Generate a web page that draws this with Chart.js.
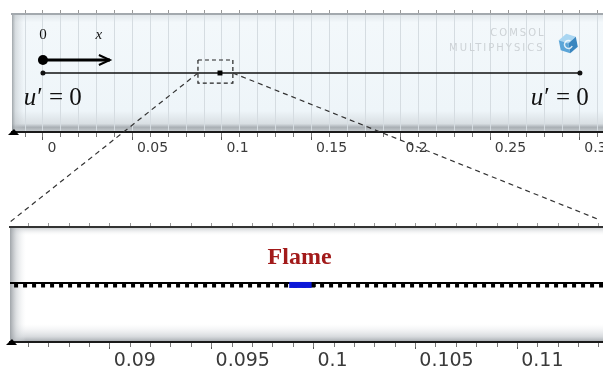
<!DOCTYPE html>
<html>
<head>
<meta charset="utf-8">
<script src="https://cdn.jsdelivr.net/npm/chart.js@4.4.1/dist/chart.umd.min.js"></script>
<style>
html, body { margin: 0; padding: 0; background: #fff; }
#wrap { position: relative; width: 603px; height: 370px; overflow: hidden; }
canvas { position: absolute; left: 0; }
#top { top: 0; }
#bottom { top: 210px; }
#links { top: 0; pointer-events: none; }
</style>
</head>
<body>
<div id="wrap">
  <canvas id="top" width="603" height="225"></canvas>
  <canvas id="bottom" width="603" height="160"></canvas>
  <canvas id="links" width="603" height="370"></canvas>
</div>
<script>
// top panel: whole rod
const topRange = [-0.0173, 0.3129];
const topTicks = [0, 0.05, 0.1, 0.15, 0.2, 0.25, 0.3];
const rodX = [0, 0.3];
const rodY = 0.5;
const flameTopX = 0.0989;
const arrowX = [0, 0.0374];
const arrowY = 0.61;
const zoomBoxX = [0.0866, 0.1061];
const zoomBoxY = [0.415, 0.61];

// bottom panel: zoom around the flame
const botRange = [0.0851, 0.1142];
const botTicks = [0.09, 0.095, 0.1, 0.105, 0.11];
const lineX = [0.08, 0.12];
const lineY = 0.513;
const meshY = 0.491;
const flameX = [0.0988, 0.0999];
const flameY = 0.496;
const flameEndX = 0.1;

const serif = '"Liberation Serif", "DejaVu Serif", serif';
const sans = '"DejaVu Sans", sans-serif';

const topNotes = [
    { text: '0', x: 0, y: 0.822, font: '15px ' + serif, color: '#111' },
    { text: 'x', x: 0.0312, y: 0.822, font: 'italic 15px ' + serif, color: '#111' },
    { text: 'COMSOL', x: 0.2654, y: 0.839, font: '10px ' + sans, color: '#cdd2d6', spacing: '2px' },
    { text: 'MULTIPHYSICS', x: 0.2536, y: 0.712, font: '10px ' + sans, color: '#cdd2d6', spacing: '2px' }
];
const uLabels = [
    { x: 0.0052, y: 0.288 },
    { x: 0.2885, y: 0.288 }
];
const botNotes = [
    { text: 'Flame', x: 0.09931, y: 0.735, font: 'bold 24px ' + serif, color: '#a21a1a' }
];

function drawNotes(chart, notes) {
    const ctx = chart.ctx;
    const xs = chart.scales.x, ys = chart.scales.y;
    ctx.save();
    ctx.textAlign = 'center';
    ctx.textBaseline = 'middle';
    notes.forEach(n => {
        ctx.font = n.font;
        ctx.fillStyle = n.color;
        ctx.letterSpacing = n.spacing || '0px';
        ctx.fillText(n.text, xs.getPixelForValue(n.x), ys.getPixelForValue(n.y));
    });
    ctx.restore();
}

function drawU(chart) {
    const ctx = chart.ctx;
    const xs = chart.scales.x, ys = chart.scales.y;
    ctx.save();
    ctx.textBaseline = 'middle';
    ctx.textAlign = 'left';
    ctx.fillStyle = '#111';
    uLabels.forEach(p => {
        const a = 'italic 25px ' + serif, b = '25px ' + serif;
        ctx.font = a; const w1 = ctx.measureText('u').width;
        ctx.font = b; const w2 = ctx.measureText('\u2032 = 0').width;
        let cx = xs.getPixelForValue(p.x) - (w1 + w2) / 2;
        const cy = ys.getPixelForValue(p.y);
        ctx.font = a; ctx.fillText('u', cx, cy);
        ctx.font = b; ctx.fillText('\u2032 = 0', cx + w1 + 1, cy);
    });
    ctx.restore();
}

function drawCube(ctx, cx, cy, r) {
    ctx.save();
    ctx.translate(cx, cy);
    ctx.rotate(-0.2);
    const faces = [
        { c: '#a9d6f2', p: [[0, -r], [r * 0.87, -r / 2], [0, 0], [-r * 0.87, -r / 2]] },
        { c: '#5ba5d8', p: [[-r * 0.87, -r / 2], [0, 0], [0, r], [-r * 0.87, r / 2]] },
        { c: '#3a86bf', p: [[r * 0.87, -r / 2], [0, 0], [0, r], [r * 0.87, r / 2]] }
    ];
    faces.forEach(f => {
        ctx.fillStyle = f.c;
        ctx.beginPath();
        f.p.forEach((q, i) => i ? ctx.lineTo(q[0], q[1]) : ctx.moveTo(q[0], q[1]));
        ctx.closePath();
        ctx.fill();
    });
    ctx.strokeStyle = 'rgba(255,255,255,0.8)';
    ctx.lineWidth = 1.5;
    ctx.beginPath();
    ctx.arc(0, 1, r * 0.4, 0.6, 5.4);
    ctx.stroke();
    ctx.restore();
}

function axisTriangle(chart) {
    const a = chart.chartArea, ctx = chart.ctx;
    ctx.save();
    ctx.fillStyle = '#000';
    ctx.beginPath();
    ctx.moveTo(a.left - 4, a.bottom + 3);
    ctx.lineTo(a.left + 7, a.bottom + 3);
    ctx.lineTo(a.left + 2, a.bottom - 3);
    ctx.closePath();
    ctx.fill();
    ctx.restore();
}

const topFrame = {
    id: 'topFrame',
    beforeDraw(chart) {
        const a = chart.chartArea, ctx = chart.ctx;
        const w = a.right - a.left, h = a.bottom - a.top;
        ctx.save();
        const g = ctx.createLinearGradient(0, a.top, 0, a.bottom);
        g.addColorStop(0, '#dfe5e9');
        g.addColorStop(0.07, '#f3f8fb');
        g.addColorStop(0.82, '#eef5f9');
        g.addColorStop(0.93, '#d9dfe3');
        g.addColorStop(0.96, '#a9afb4');
        g.addColorStop(1, '#c9ced2');
        ctx.fillStyle = g;
        ctx.fillRect(a.left, a.top, w, h);
        const l = ctx.createLinearGradient(a.left, 0, a.left + 12, 0);
        l.addColorStop(0, 'rgba(140,146,150,0.8)');
        l.addColorStop(0.3, 'rgba(190,196,200,0.5)');
        l.addColorStop(1, 'rgba(200,205,210,0)');
        ctx.fillStyle = l;
        ctx.fillRect(a.left, a.top, 12, h);
        ctx.restore();
    },
    afterDatasetsDraw(chart) {
        // arrow head on the x direction arrow
        const meta = chart.getDatasetMeta(2);
        const tip = meta.data[meta.data.length - 1];
        const ctx = chart.ctx;
        ctx.save();
        ctx.strokeStyle = '#000';
        ctx.lineWidth = 2;
        ctx.beginPath();
        ctx.moveTo(tip.x - 11, tip.y - 5);
        ctx.lineTo(tip.x, tip.y);
        ctx.lineTo(tip.x - 11, tip.y + 5);
        ctx.stroke();
        ctx.restore();
        drawCube(ctx, chart.scales.x.getPixelForValue(0.2935), chart.scales.y.getPixelForValue(0.75), 10);
        drawNotes(chart, topNotes);
        drawU(chart);
    },
    afterDraw(chart) { axisTriangle(chart); }
};

const botFrame = {
    id: 'botFrame',
    beforeDraw(chart) {
        const a = chart.chartArea, ctx = chart.ctx;
        const w = a.right - a.left, h = a.bottom - a.top;
        ctx.save();
        ctx.fillStyle = '#fff';
        ctx.fillRect(a.left, a.top, w, h);
        const t = ctx.createLinearGradient(0, a.top, 0, a.top + 9);
        t.addColorStop(0, 'rgba(170,175,180,0.7)');
        t.addColorStop(1, 'rgba(255,255,255,0)');
        ctx.fillStyle = t;
        ctx.fillRect(a.left, a.top, w, 9);
        const b = ctx.createLinearGradient(0, a.bottom - 18, 0, a.bottom);
        b.addColorStop(0, 'rgba(235,237,240,0)');
        b.addColorStop(0.7, 'rgba(205,209,213,0.8)');
        b.addColorStop(1, 'rgba(160,165,170,1)');
        ctx.fillStyle = b;
        ctx.fillRect(a.left, a.bottom - 18, w, 18);
        const l = ctx.createLinearGradient(a.left, 0, a.left + 16, 0);
        l.addColorStop(0, 'rgba(150,155,160,0.9)');
        l.addColorStop(0.4, 'rgba(200,204,208,0.6)');
        l.addColorStop(1, 'rgba(235,238,240,0)');
        ctx.fillStyle = l;
        ctx.fillRect(a.left, a.top, 16, h);
        ctx.restore();
    },
    afterDatasetsDraw(chart) { drawNotes(chart, botNotes); },
    afterDraw(chart) { axisTriangle(chart); }
};

function noPad(s) { s.paddingLeft = 0; s.paddingRight = 0; }

function makeScales(range, ticks, o) {
    return {
        x: {
            type: 'linear', position: 'bottom', min: range[0], max: range[1],
            afterBuildTicks: s => { s.ticks = ticks.map(v => ({ value: v })); },
            afterFit: s => { noPad(s); s.height = o.axisH; },
            ticks: {
                align: 'start', maxRotation: 0, autoSkip: false, padding: o.pad,
                font: { family: 'DejaVu Sans', size: o.size }, color: '#3a3a3a',
                callback: v => o.space + v
            },
            grid: { drawOnChartArea: false, tickLength: o.major, tickColor: '#555', tickWidth: 1 },
            border: { color: '#1a1a1a', width: 2 }
        },
        xm: {
            type: 'linear', position: { y: 0 }, min: range[0], max: range[1],
            afterFit: noPad,
            ticks: { stepSize: o.step, display: false, includeBounds: false },
            grid: { drawOnChartArea: o.gridOn, color: '#d5dce1', lineWidth: 1, tickLength: o.minor, tickColor: '#777' },
            border: { display: false }
        },
        xt: {
            type: 'linear', position: 'top', min: range[0], max: range[1],
            afterFit: s => { noPad(s); s.height = 4; },
            ticks: { stepSize: o.step, display: false, includeBounds: false },
            grid: { drawOnChartArea: false, tickLength: 4, tickColor: '#999' },
            border: { color: o.topBorder, width: 2 }
        },
        y: { min: 0, max: 1, display: false }
    };
}

const topChart = new Chart(document.getElementById('top'), {
    type: 'scatter',
    data: {
        datasets: [
            { data: rodX.map(x => ({ x: x, y: rodY })), showLine: true, borderColor: '#111', borderWidth: 1.5,
              pointRadius: 2.5, pointBackgroundColor: '#111', pointBorderWidth: 0 },
            { data: [{ x: flameTopX, y: rodY }], pointStyle: 'rect', pointRadius: 3.5,
              pointBackgroundColor: '#000', pointBorderWidth: 0, order: -1 },
            { data: arrowX.map(x => ({ x: x, y: arrowY })), showLine: true, borderColor: '#000', borderWidth: 3,
              pointRadius: [5, 0], pointBackgroundColor: '#000', pointBorderWidth: 0 },
            { data: [
                { x: zoomBoxX[0], y: zoomBoxY[1] }, { x: zoomBoxX[1], y: zoomBoxY[1] },
                { x: zoomBoxX[1], y: zoomBoxY[0] }, { x: zoomBoxX[0], y: zoomBoxY[0] },
                { x: zoomBoxX[0], y: zoomBoxY[1] }
              ], showLine: true, borderColor: '#222', borderWidth: 1.2, borderDash: [4, 3], pointRadius: 0 }
        ]
    },
    options: {
        responsive: false, animation: false, events: [],
        layout: { autoPadding: false, padding: { top: 10, left: 12, right: 0, bottom: 63 } },
        plugins: { legend: { display: false }, tooltip: { enabled: false } },
        scales: makeScales(topRange, topTicks, {
            axisH: 30, pad: 0, size: 14, space: ' ', major: 8, minor: 5, step: 0.01, gridOn: true, topBorder: '#a3a9ae'
        })
    },
    plugins: [topFrame]
});

const botChart = new Chart(document.getElementById('bottom'), {
    type: 'scatter',
    data: {
        datasets: [
            { data: lineX.map(x => ({ x: x, y: lineY })), showLine: true, borderColor: '#000', borderWidth: 2, pointRadius: 0 },
            { data: lineX.map(x => ({ x: x, y: meshY })), showLine: true, borderColor: '#000', borderWidth: 4,
              borderDash: [4, 5], borderCapStyle: 'butt', pointRadius: 0 },
            { data: flameX.map(x => ({ x: x, y: flameY })), showLine: true, borderColor: '#0b18d8', borderWidth: 6,
              borderCapStyle: 'butt', pointRadius: 0, order: -2 },
            { data: [{ x: flameEndX, y: flameY }], pointStyle: 'rect', pointRadius: 3,
              pointBackgroundColor: '#000', pointBorderWidth: 0, order: -1 }
        ]
    },
    options: {
        responsive: false, animation: false, events: [],
        layout: { autoPadding: false, padding: { top: 13, left: 10, right: 0, bottom: 0 } },
        plugins: { legend: { display: false }, tooltip: { enabled: false } },
        scales: makeScales(botRange, botTicks, {
            axisH: 28, pad: 1, size: 19, space: '\u2009', major: 7, minor: 5, step: 0.001, gridOn: false, topBorder: '#333'
        })
    },
    plugins: [botFrame]
});

// dashed lines linking the zoom box to the lower panel
function drawLinks() {
    const ctx = document.getElementById('links').getContext('2d');
    const off = 210;
    const xs = topChart.scales.x, ys = topChart.scales.y;
    const y0 = ys.getPixelForValue(rodY);
    const a = botChart.chartArea;
    ctx.strokeStyle = '#333';
    ctx.lineWidth = 1.2;
    ctx.setLineDash([5, 4]);
    ctx.beginPath();
    ctx.moveTo(xs.getPixelForValue(zoomBoxX[0]), y0);
    ctx.lineTo(a.left, off + a.top - 5);
    ctx.moveTo(xs.getPixelForValue(zoomBoxX[1]), y0);
    ctx.lineTo(a.right - 3, off + a.top - 7);
    ctx.stroke();
}
drawLinks();
</script>
</body>
</html>
